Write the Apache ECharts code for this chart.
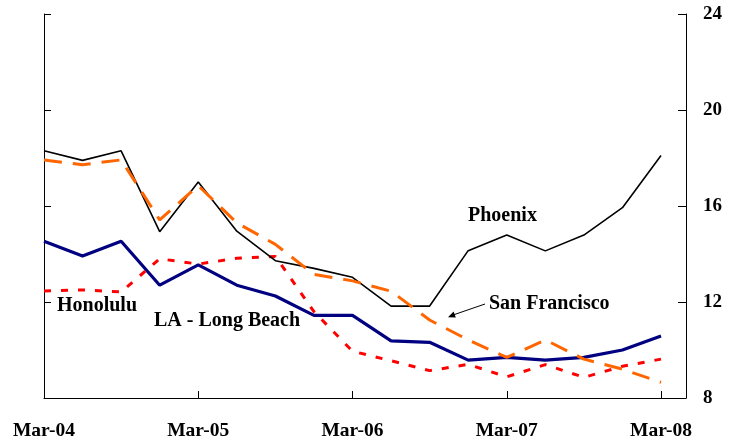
<!DOCTYPE html>
<html>
<head>
<meta charset="utf-8">
<script src="https://cdn.jsdelivr.net/npm/echarts@6/dist/echarts.min.js"></script>
<style>
  html, body { margin: 0; padding: 0; background: #fff; }
  #chart { width: 743px; height: 443px; }
</style>
</head>
<body>
<div id="chart"></div>
<script>
// quarterly, Mar-04 .. Mar-08 (17 points)
const tickLabels = ['Mar-04', 'Mar-05', 'Mar-06', 'Mar-07', 'Mar-08']
const phoenix = [18.3, 17.9, 18.3, 14.93, 17.0, 14.95, 13.72, 13.4, 13.03, 11.83, 11.83, 14.14, 14.79, 14.13, 14.79, 15.93, 18.1]
const sanFrancisco = [17.92, 17.72, 17.92, 15.42, 16.85, 15.3, 14.4, 13.15, 12.88, 12.45, 11.25, 10.42, 9.69, 10.42, 9.62, 9.2, 8.65]
const laLongBeach = [14.53, 13.92, 14.53, 12.7, 13.55, 12.7, 12.25, 11.44, 11.44, 10.38, 10.32, 9.58, 9.69, 9.58, 9.69, 10.0, 10.58]
const honolulu = [12.46, 12.5, 12.42, 13.8, 13.58, 13.82, 13.9, 11.6, 9.95, 9.55, 9.14, 9.4, 8.88, 9.39, 8.86, 9.32, 9.62]
const yTicks = [8, 12, 16, 20, 24]

const font = 'Liberation Serif'
const toPairs = (arr) => arr.map((v, i) => [i, v])

const myChart = echarts.init(document.getElementById('chart'))
let option = {
  animation: false,
  backgroundColor: '#fff',
  grid: {
    left: 44,
    right: 57,
    top: 14,
    bottom: 45
  },
  xAxis: {
    type: 'value',
    min: 0,
    max: 16.648,
    interval: 4,
    axisLine: { lineStyle: { color: '#000', width: 1 } },
    axisTick: { inside: true, length: 7, lineStyle: { color: '#000' } },
    splitLine: { show: false },
    axisLabel: {
      margin: 23,
      color: '#000',
      fontFamily: font,
      fontWeight: 'bold',
      fontSize: 19.5,
      showMaxLabel: false,
      formatter: (v) => (v % 4 === 0 ? tickLabels[v / 4] : '')
    }
  },
  yAxis: [
    {
      type: 'value',
      position: 'left',
      min: yTicks[0],
      max: yTicks[yTicks.length - 1],
      interval: 4,
      axisLine: { show: true, lineStyle: { color: '#000', width: 1 } },
      axisTick: { show: true, inside: true, length: 7, lineStyle: { color: '#000' } },
      axisLabel: { show: false },
      splitLine: { show: false }
    },
    {
      type: 'value',
      position: 'right',
      min: yTicks[0],
      max: yTicks[yTicks.length - 1],
      interval: 4,
      axisLine: { show: true, lineStyle: { color: '#000', width: 1 } },
      axisTick: { show: true, inside: true, length: 8, lineStyle: { color: '#000' } },
      axisLabel: {
        margin: 17,
        color: '#000',
        fontFamily: font,
        fontWeight: 'bold',
        fontSize: 19
      },
      splitLine: { show: false }
    }
  ],
  series: [
    {
      name: 'LA - Long Beach',
      type: 'line',
      data: toPairs(laLongBeach),
      symbol: 'none',
      lineStyle: { color: '#000080', width: 3.2 }
    },
    {
      name: 'Honolulu',
      type: 'line',
      data: toPairs(honolulu),
      symbol: 'none',
      lineStyle: { color: '#ff0000', width: 3, type: [7, 10], cap: 'butt' }
    },
    {
      name: 'Phoenix',
      type: 'line',
      data: toPairs(phoenix),
      symbol: 'none',
      lineStyle: { color: '#000', width: 1.6 }
    },
    {
      name: 'San Francisco',
      type: 'line',
      data: toPairs(sanFrancisco),
      symbol: 'none',
      lineStyle: { color: '#ff6600', width: 3, type: [18, 11], cap: 'butt' }
    }
  ],
  graphic: [
    { type: 'text', left: 468, top: 206, style: { text: 'Phoenix', font: 'bold 20px "Liberation Serif"', fill: '#000' } },
    { type: 'text', left: 489, top: 294, style: { text: 'San Francisco', font: 'bold 20px "Liberation Serif"', fill: '#000' } },
    { type: 'text', left: 57, top: 296, style: { text: 'Honolulu', font: 'bold 20px "Liberation Serif"', fill: '#000' } },
    { type: 'text', left: 154, top: 311, style: { text: 'LA - Long Beach', font: 'bold 20px "Liberation Serif"', fill: '#000' } },
    // arrow pointing to the San Francisco line
    { type: 'line', shape: { x1: 485, y1: 304, x2: 453, y2: 315 }, style: { stroke: '#000', lineWidth: 1 } },
    { type: 'polygon', shape: { points: [[448, 317.3], [455.8, 317.4], [453.6, 311.6]] }, style: { fill: '#000' } }
  ]
}
myChart.setOption(option)
window.addEventListener('resize', () => {
  myChart.resize()
})
</script>
</body>
</html>
